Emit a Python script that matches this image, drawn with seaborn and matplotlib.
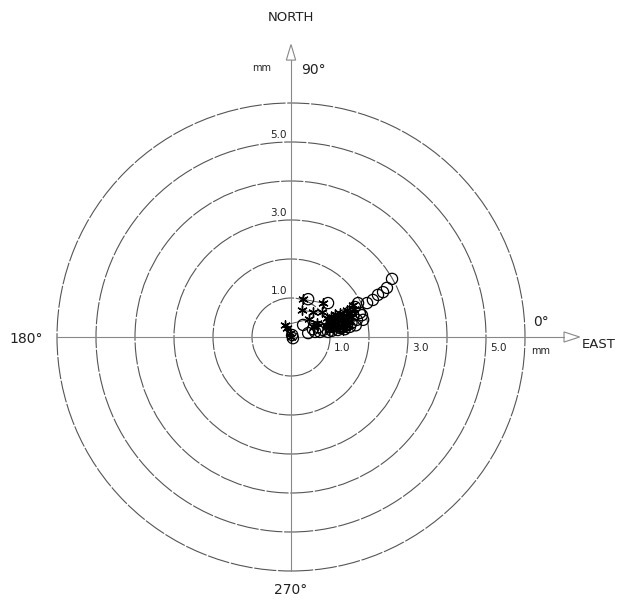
import numpy as np
import pandas as pd
import seaborn as sns
import matplotlib
matplotlib.use("Agg")
import matplotlib.pyplot as plt
from matplotlib.patches import Circle, Polygon

# ---- data (mm, east / north displacements) ----
circ_east = [0.44, 0.95, 0.31, 0.44, 0.62, 0.74, 0.95, 0.03, 0.05, 1.00, 1.18, 1.26,
             1.44, 1.51, 1.69, 1.85, 1.77, 1.64, 1.72, 1.95, 2.10, 2.23, 2.36, 2.46,
             2.59, 1.26, 1.44, 1.51, 1.10, 0.82, 1.35, 1.60, 0.56, 1.20, 1.38, 1.55,
             1.66, 0.70, 1.05, 1.82]
circ_north = [0.97, 0.87, 0.31, 0.10, 0.13, 0.13, 0.13, 0.05, -0.03, 0.26, 0.31, 0.23,
              0.31, 0.26, 0.44, 0.44, 0.62, 0.77, 0.87, 0.87, 0.95, 1.08, 1.15, 1.26,
              1.49, 0.44, 0.51, 0.64, 0.38, 0.18, 0.55, 0.55, 0.20, 0.18, 0.20, 0.36,
              0.30, 0.25, 0.16, 0.56]
star_east = [-0.03, 0.0, -0.10, -0.15, 0.45, 0.6, 0.67, 0.9, 1.05, 0.92, 1.08, 1.2,
             1.26, 1.3, 1.4, 1.44, 1.59, 1.15, 1.0, 0.79, 0.56, 0.28, 0.31, 0.82,
             1.10, 1.22, 1.35, 1.48, 1.55, 1.12, 1.28, 1.40, 1.50, 0.98, 1.18, 1.33,
             1.62, 1.46, 1.02, 1.24]
star_north = [0.10, 0.0, 0.23, 0.31, 0.45, 0.25, 0.36, 0.30, 0.40, 0.49, 0.51, 0.45,
              0.62, 0.35, 0.45, 0.69, 0.82, 0.25, 0.30, 0.64, 0.64, 0.69, 0.97, 0.87,
              0.20, 0.28, 0.25, 0.30, 0.50, 0.58, 0.42, 0.56, 0.62, 0.18, 0.36, 0.18,
              0.72, 0.38, 0.52, 0.55]
ring_radii = [1, 2, 3, 4, 5, 6]
ring_labels = ["1.0", "3.0", "5.0"]
ring_label_r = [1, 3, 5]
dir_labels = ["0°", "90°", "180°", "270°"]

sns.set_style("white")
plt.rcParams['font.family'] = ['DejaVu Sans']

fig = plt.figure(figsize=(6.4, 6.01), dpi=100)
ax = fig.add_axes([0, 0, 1, 1])
cx, cy, s = 291, 337, 39.0
ax.set_xlim(-cx / s, (640 - cx) / s)
ax.set_ylim(-(601 - cy) / s, cy / s)
ax.axis("off")

# rings
for r in ring_radii:
    ax.add_patch(Circle((0, 0), r, fill=False, ec="#555555", lw=0.8,
                        ls=(0, (20, 1.5)), zorder=1))
# axes lines
ax.plot([-6, 7.0], [0, 0], color="#888888", lw=0.8, zorder=1)
ax.plot([0, 0], [-6, 7.1], color="#888888", lw=0.8, zorder=1)
ax.add_patch(Polygon([[7.0, 0.13], [7.0, -0.13], [7.4, 0]], closed=True,
                     fill=False, ec="#888888", lw=0.8))
ax.add_patch(Polygon([[-0.12, 7.1], [0.12, 7.1], [0, 7.5]], closed=True,
                     fill=False, ec="#888888", lw=0.8))

# ring labels
for r, lab in zip(ring_label_r, ring_labels):
    ax.text(-0.1, r + 0.05, lab, ha="right", va="bottom", fontsize=7.5, color="#222222")
    ax.text(r + 0.1, -0.15, lab, ha="left", va="top", fontsize=7.5, color="#222222")

# direction labels
ax.text(6.4, 0.2, dir_labels[0], ha="center", va="bottom", fontsize=10, color="#222222")
ax.text(0.58, 6.84, dir_labels[1], ha="center", va="center", fontsize=10, color="#222222")
ax.text(-6.8, -0.05, dir_labels[2], ha="center", va="center", fontsize=10, color="#222222")
ax.text(0, -6.5, dir_labels[3], ha="center", va="center", fontsize=10, color="#222222")
ax.text(0, 8.2, "NORTH", ha="center", va="center", fontsize=9.5, color="#222222")
ax.text(7.9, -0.2, "EAST", ha="center", va="center", fontsize=9.5, color="#222222")
ax.text(-0.75, 6.9, "mm", ha="center", va="center", fontsize=7, color="#222222")
ax.text(6.4, -0.35, "mm", ha="center", va="center", fontsize=7, color="#222222")

# data
df_c = pd.DataFrame({"east": circ_east, "north": circ_north})
df_s = pd.DataFrame({"east": star_east, "north": star_north})
sns.lineplot(data=df_s, x="east", y="north", sort=False, estimator=None,
             color="#444444", lw=0.6, ax=ax, zorder=2)
sns.scatterplot(data=df_c, x="east", y="north", marker="o", s=65,
                facecolor="none", edgecolor="black", linewidth=0.9, ax=ax, zorder=3)
sns.scatterplot(data=df_s, x="east", y="north", marker=(6, 2, 0), s=45,
                color="black", linewidth=1.0, ax=ax, zorder=4)
ax.set_xlabel("")
ax.set_ylabel("")

fig.savefig("out.png", dpi=100)
